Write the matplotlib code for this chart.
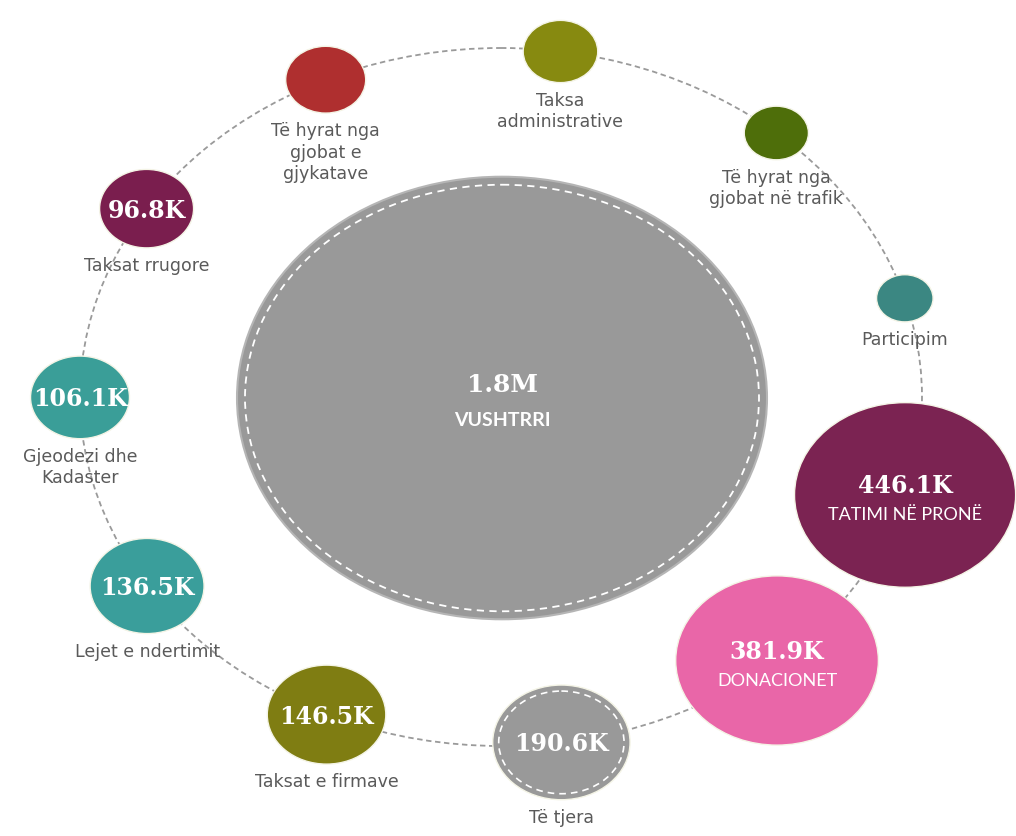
import matplotlib.pyplot as plt
from matplotlib.patches import Ellipse
import numpy as np

# revenue sources of Vushtrri, values in thousands
names = ['TATIMI NË PRONË', 'DONACIONET', 'Të tjera', 'Taksat e firmave',
         'Lejet e ndertimit', 'Gjeodezi dhe\nKadaster', 'Taksat rrugore',
         'Të hyrat nga\ngjobat e\ngjykatave', 'Taksa\nadministrative',
         'Të hyrat nga\ngjobat në trafik', 'Participim']
values = [446.1, 381.9, 190.6, 146.5, 136.5, 106.1, 96.8, 72.6, 64.0, 49.0, 39.0]
value_labels = ['446.1K', '381.9K', '190.6K', '146.5K', '136.5K', '106.1K', '96.8K',
                '', '', '', '']
colors = ['#7B2352', '#E966A8', '#999999', '#7F7D12', '#3A9E9B', '#3A9E98',
          '#7A1E4E', '#AF2F2F', '#878A10', '#4E6E0A', '#3B8782']
total_label = '1.8M'
total_name = 'VUSHTRRI'

W, H = 1016, 836
fig = plt.figure(figsize=(W / 100, H / 100), dpi=100)
ax = fig.add_axes([0, 0, 1, 1])
ax.set_xlim(0, W)
ax.set_ylim(H, 0)
ax.axis('off')

# ring of bubbles
cx, cy, rx, ry = 501, 397, 421, 349
aspect = 0.835
a0 = np.deg2rad(16.3)
step = 2 * np.pi / len(values)

ax.add_patch(Ellipse((cx, cy), 2 * rx, 2 * ry, fill=False, ec='#9a9a9a',
                     lw=1.3, ls=(0, (3, 2)), zorder=1))

# big centre bubble
bx, by, brx = 502, 398, 265
ax.add_patch(Ellipse((bx, by), 2 * brx, 2 * brx * aspect, fc='#999999',
                     ec='#b5b5b5', lw=1.5, zorder=2))
ax.add_patch(Ellipse((bx, by), 2 * brx - 16, 2 * brx * aspect - 16, fill=False,
                     ec='white', lw=1.3, ls=(0, (4, 3)), zorder=3))
ax.text(bx, by - 13, total_label, color='white', fontsize=18, weight='bold',
        family='DejaVu Serif', ha='center', va='center', zorder=4)
ax.text(bx, by + 22, total_name, color='white', fontsize=14, weight='bold',
        family='Lato', ha='center', va='center', zorder=4)

for i, (nm, v, lab, c) in enumerate(zip(names, values, value_labels, colors)):
    a = a0 + i * step
    x = cx + rx * np.cos(a)
    y = cy + ry * np.sin(a)
    r = 3.63 * v ** 0.56
    rr = r * aspect
    ax.add_patch(Ellipse((x, y), 2 * r, 2 * rr, fc=c, ec='#f4f4e6', lw=1,
                         zorder=5))
    if c == '#999999':
        ax.add_patch(Ellipse((x, y), 2 * r - 12, 2 * rr - 12, fill=False,
                             ec='white', lw=1.2, ls=(0, (4, 3)), zorder=6))
    if i < 2:
        ax.text(x, y - 9, lab, color='white', fontsize=17, weight='bold',
                family='DejaVu Serif', ha='center', va='center', zorder=7)
        ax.text(x, y + 20, nm, color='white', fontsize=13, family='Lato',
                ha='center', va='center', zorder=7)
    else:
        if lab:
            ax.text(x, y + 2, lab, color='white', fontsize=17, weight='bold',
                    family='DejaVu Serif', ha='center', va='center', zorder=7)
        ax.text(x, y + rr + 9, nm, color='#5a5a5a', fontsize=12.5,
                family='DejaVu Sans', ha='center', va='top', linespacing=1.25,
                zorder=7)

fig.savefig('out.png', dpi=100)
